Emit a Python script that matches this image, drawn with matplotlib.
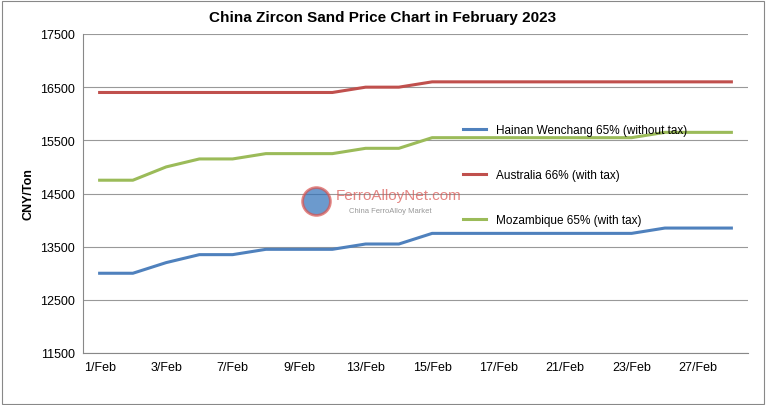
import matplotlib.pyplot as plt
from matplotlib.lines import Line2D
from matplotlib.patches import Rectangle

days = ["1/Feb", "2/Feb", "3/Feb", "6/Feb", "7/Feb", "8/Feb", "9/Feb", "10/Feb", "13/Feb", "14/Feb",
        "15/Feb", "16/Feb", "17/Feb", "20/Feb", "21/Feb", "22/Feb", "23/Feb", "24/Feb", "27/Feb", "28/Feb"]
hainan = [13000, 13000, 13200, 13350, 13350, 13450, 13450, 13450, 13550, 13550,
          13750, 13750, 13750, 13750, 13750, 13750, 13750, 13850, 13850, 13850]
australia = [16400, 16400, 16400, 16400, 16400, 16400, 16400, 16400, 16500, 16500,
             16600, 16600, 16600, 16600, 16600, 16600, 16600, 16600, 16600, 16600]
mozambique = [14750, 14750, 15000, 15150, 15150, 15250, 15250, 15250, 15350, 15350,
              15550, 15550, 15550, 15550, 15550, 15550, 15550, 15650, 15650, 15650]
series = [("Hainan Wenchang 65% (without tax)", hainan, "#4f81bd"),
          ("Australia 66% (with tax)", australia, "#c0504d"),
          ("Mozambique 65% (with tax)", mozambique, "#9bbb59")]

plt.rcParams["font.family"] = "Liberation Sans"
fig = plt.figure(figsize=(7.66, 4.06), dpi=100)
fig.patches.append(Rectangle((0.002, 0.003), 0.995, 0.993, transform=fig.transFigure,
                             fill=False, edgecolor="#888888", lw=0.8))
ax = fig.add_axes([83 / 766, 1 - 354 / 406, 665 / 766, 319 / 406])

x = list(range(len(days)))
for name, vals, c in series:
    ax.plot(x, vals, color=c, lw=2.2)

ax.set_xlim(-0.5, len(days) - 0.5)
ax.set_ylim(11500, 17500)
ax.set_yticks(range(11500, 17501, 1000))
ax.set_xticks(x[::2])
ax.set_xticklabels([days[i] for i in x[::2]])
ax.tick_params(labelsize=9, length=0, pad=6)
ax.grid(axis="y", color="#999999", lw=0.8)
ax.set_axisbelow(True)
for s in ["top", "right"]:
    ax.spines[s].set_visible(False)
for s in ["left", "bottom"]:
    ax.spines[s].set_color("#888888")
ax.set_ylabel("CNY/Ton", fontsize=9, fontweight="bold")
fig.text(0.5, 1 - 18 / 406, "China Zircon Sand Price Chart in February 2023",
         ha="center", va="center", fontsize=11, fontweight="bold")

handles = [Line2D([], [], color=c, lw=2.2) for _, _, c in series]
ax.legend(handles, [n for n, _, _ in series], loc="upper left",
          bbox_to_anchor=(0.555, 0.75), frameon=False, fontsize=8.5,
          labelspacing=2.8, handlelength=2.0)

# watermark
fig.text(0.438, 1 - 196 / 406, "FerroAlloyNet.com", fontsize=11, color="#d9534f", alpha=0.7,
         ha="left", va="center")
fig.text(0.455, 1 - 212 / 406, "China FerroAlloy Market", fontsize=5.5, color="#999999",
         ha="left", va="center")
fig.lines.append(Line2D([316 / 766], [1 - 202 / 406], transform=fig.transFigure, marker="o",
                        markersize=20, color="#2e6fb8", markeredgecolor="#d9534f",
                        markeredgewidth=2, alpha=0.7, linestyle="none"))

fig.savefig("out.png", dpi=100)
